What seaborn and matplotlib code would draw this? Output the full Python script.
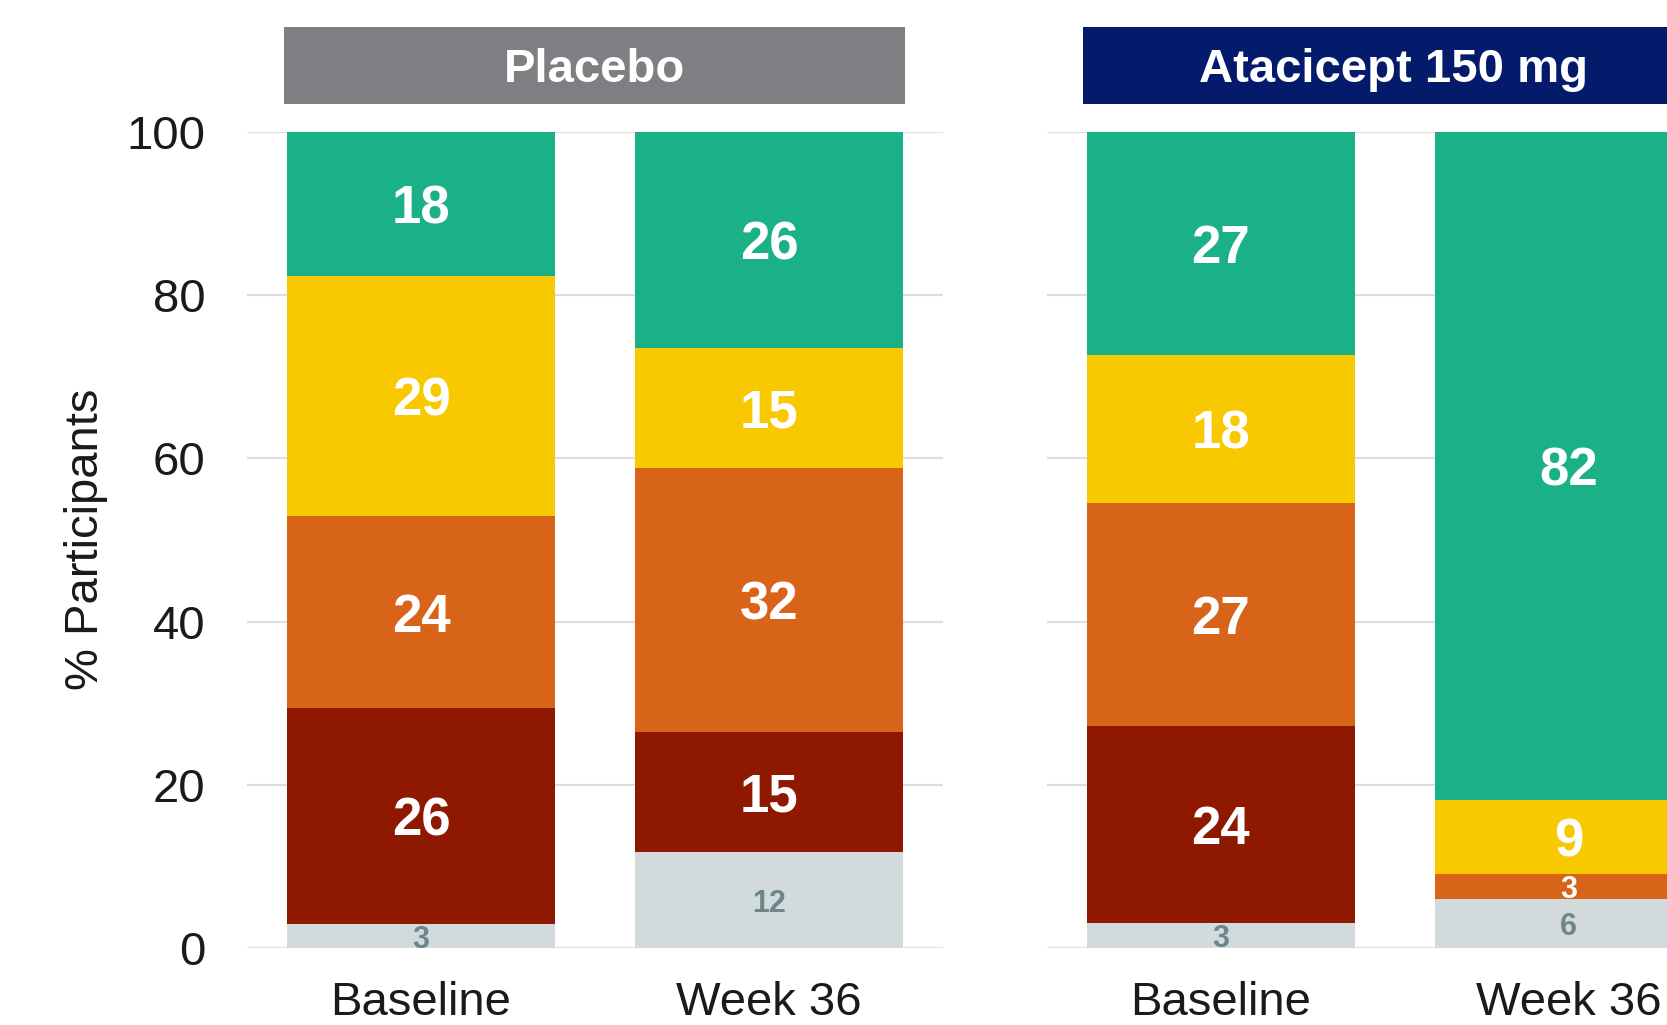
import numpy as np
import pandas as pd
import matplotlib
matplotlib.use("Agg")
import matplotlib.pyplot as plt
from matplotlib.patches import Rectangle
import seaborn as sns

# Participant counts per response level, listed bottom-to-top of each stack
levels = ["Not evaluable", "Level 4", "Level 3", "Level 2", "Level 1"]
timepoints = ["Baseline", "Week 36"]
groups = ["Placebo", "Atacicept 150 mg"]

placebo_n = 34
placebo_baseline = [1, 9, 8, 10, 6]
placebo_week36 = [4, 5, 11, 5, 9]

atacicept_n = 33
atacicept_baseline = [1, 8, 9, 6, 9]
atacicept_week36 = [2, 0, 1, 3, 27]

level_colors = ["#D2DADC", "#8E1800", "#D8641A", "#F8C900", "#1AB188"]
header_colors = ["#7D7F83", "#041A6B"]
grid_color = "#DCDFE1"
muted_label = "#6E858B"

counts = {
    "Placebo": (placebo_n, [placebo_baseline, placebo_week36]),
    "Atacicept 150 mg": (atacicept_n, [atacicept_baseline, atacicept_week36]),
}

sns.set_theme(style="white")
plt.rcParams["font.family"] = ["Liberation Sans", "DejaVu Sans"]

fig = plt.figure(figsize=(16.67, 10.25), dpi=100)
ax_w = 0.4175
ax_b = 0.0751
ax_h = 0.796
axes = [fig.add_axes([0.1482, ax_b, ax_w, ax_h]),
        fig.add_axes([0.628, ax_b, ax_w, ax_h])]

bar_width = 0.77

for gi, (group, ax) in enumerate(zip(groups, axes)):
    n, series = counts[group]
    pct = np.array(series, dtype=float) / n * 100.0  # shape (timepoint, level)
    tops = np.cumsum(pct, axis=1)
    df = pd.DataFrame(tops, columns=levels)
    df["timepoint"] = timepoints

    # Draw cumulative bars from the tallest layer down so lower levels sit in front
    for li in range(len(levels) - 1, -1, -1):
        sns.barplot(data=df, x="timepoint", y=levels[li], order=timepoints,
                    color=level_colors[li], saturation=1, width=bar_width,
                    errorbar=None, linewidth=0, ax=ax)

    # Segment value labels
    for ti in range(len(timepoints)):
        bottom = 0.0
        for li in range(len(levels)):
            v = pct[ti, li]
            if v > 0:
                mid = bottom + v / 2
                label = f"{v:.0f}"
                if li == 0:
                    ax.text(ti, mid, label, ha="center", va="center_baseline",
                            fontsize=22, fontweight="bold", color=muted_label)
                elif v < 5:
                    ax.text(ti, mid, label, ha="center", va="center_baseline",
                            fontsize=22, fontweight="bold", color="white")
                else:
                    ax.text(ti, mid, label, ha="center", va="center_baseline",
                            fontsize=38, fontweight="bold", color="white")
            bottom += v

    ax.set_xlim(-0.5, 1.5)
    ax.set_ylim(0, 100)
    ax.set_yticks([0, 20, 40, 60, 80, 100])
    ax.yaxis.grid(True, color=grid_color, linewidth=1.5)
    ax.xaxis.grid(False)
    ax.set_axisbelow(True)
    for s in ax.spines.values():
        s.set_visible(False)
    ax.set_xlabel("")
    ax.set_ylabel("")
    ax.tick_params(axis="x", length=0, pad=24, labelsize=34, labelcolor="#1A1A1A")
    ax.tick_params(axis="y", length=0, pad=30, labelsize=34, labelcolor="#1A1A1A")
    if gi > 0:
        ax.set_yticklabels([])

    # Group header band above the bars
    x0, x1 = -0.395, 1.39
    ax.add_patch(Rectangle((x0, 103.5), x1 - x0, 9.4, facecolor=header_colors[gi],
                           edgecolor="none", clip_on=False, zorder=5))
    ax.text((x0 + x1) / 2, 108.2, group, ha="center", va="center_baseline",
            fontsize=34, fontweight="bold", color="white", clip_on=False, zorder=6)

fig.text(0.0515, 0.474, "% Participants", rotation=90, ha="center", va="center",
         fontsize=34, color="#1A1A1A")

fig.savefig("out.png", dpi=100)
